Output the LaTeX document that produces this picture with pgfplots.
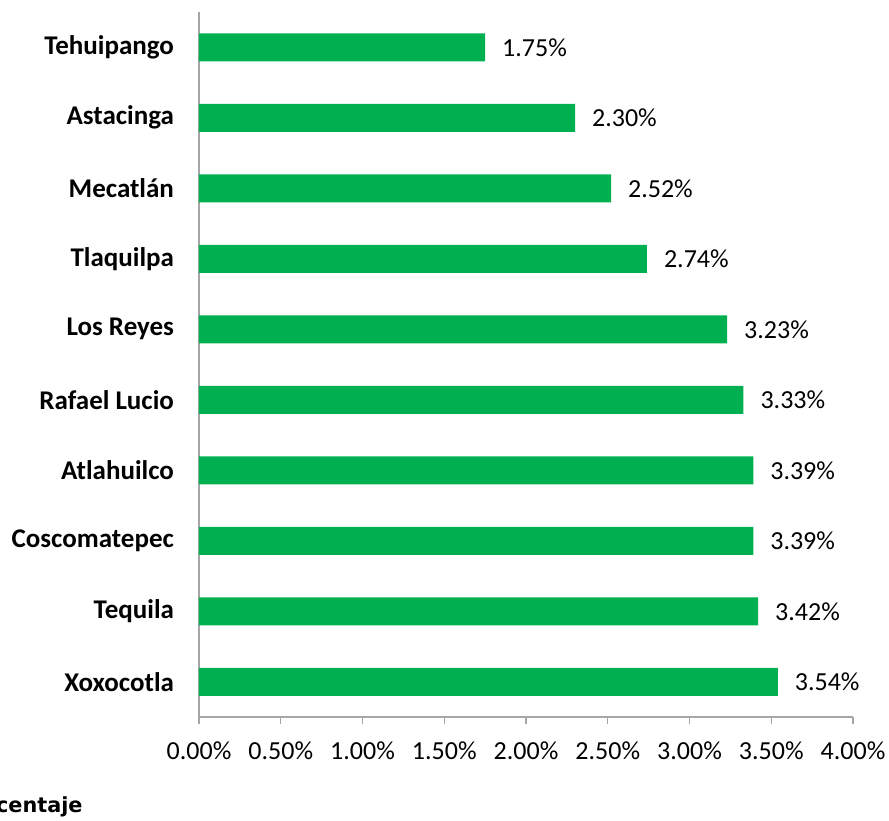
\documentclass[border=0pt]{standalone}
\usepackage{pgfplots}
\pgfplotsset{compat=1.18}
\usepackage{fontspec}
\setmainfont{Carlito}
\newfontfamily\verd{DejaVu Sans}
\definecolor{barg}{HTML}{00B050}
\definecolor{axg}{HTML}{A6A6A6}
\begin{document}
\begin{tikzpicture}
\useasboundingbox (0,0) rectangle (444.5pt,410pt);
\clip (0,0) rectangle (444.5pt,410pt);
\begin{axis}[
    at={(99.5pt,51.5pt)}, anchor=south west,
    scale only axis, width=327pt, height=352.5pt,
    xbar, bar width=14pt,
    xmin=0, xmax=4, ymin=-0.5, ymax=9.5, y dir=reverse,
    axis x line*=bottom, axis y line*=left,
    axis line style={-, draw=axg, line width=0.6pt},
    xtick={0,0.5,...,4},
    xticklabel={\pgfmathprintnumber[fixed,fixed zerofill,precision=2]{\tick}\%},
    ytick={0,...,9},
    yticklabels={Tehuipango,Astacinga,Mecatlán,Tlaquilpa,Los Reyes,Rafael Lucio,Atlahuilco,Coscomatepec,Tequila,Xoxocotla},
    minor ytick={-0.5,0.5,...,9.5},
    tick align=outside,
    major tick length=3.5pt, minor tick length=4pt,
    xtick style={draw=axg, line width=0.6pt},
    ytick style={draw=none},
    minor tick style={draw=axg, line width=0.6pt},
    /pgf/number format/assume math mode=true,
    xticklabel style={font=\fontsize{13}{15}\selectfont, yshift=-5.5pt},
    yticklabel style={font=\fontsize{13.5}{15}\selectfont\bfseries, xshift=-5.5pt},
    nodes near coords={\pgfmathprintnumber[fixed,fixed zerofill,precision=2]{\pgfplotspointmeta}\%},
    nodes near coords style={font=\fontsize{13}{15}\selectfont, anchor=west, xshift=5pt},
  ]
  \addplot[fill=barg, draw=none] coordinates {
    (1.75,0) (2.30,1) (2.52,2) (2.74,3) (3.23,4)
    (3.33,5) (3.39,6) (3.39,7) (3.42,8) (3.54,9)
  };
\end{axis}
\node[anchor=base east, inner sep=0pt, font=\verd\fontsize{10.4}{12}\selectfont\bfseries] at (41.5pt,4pt) {Porcentaje};
\end{tikzpicture}
\end{document}
